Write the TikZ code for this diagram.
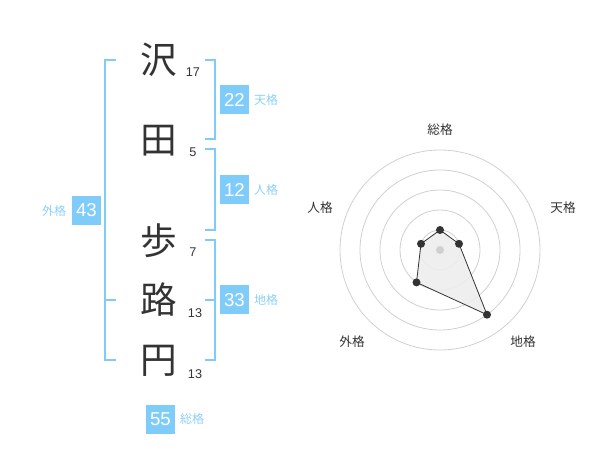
\documentclass[tikz,border=0pt]{standalone}
\usepackage{fontspec}
\setmainfont{Liberation Sans}
\newfontfamily\jp{Noto Sans CJK JP}
\definecolor{sky}{RGB}{127,204,250}
\definecolor{skytext}{RGB}{140,208,248}
\definecolor{ink}{RGB}{51,51,51}
\definecolor{ring}{RGB}{208,208,208}
\begin{document}
\begin{tikzpicture}[x=0.75pt,y=-0.75pt,
  kanji/.style={font=\jp\fontsize{27.5}{27.5}\selectfont,text=ink,inner sep=0pt},
  strokes/.style={font=\fontsize{9.5}{9.5}\selectfont,text=ink,inner sep=0pt},
  valbox/.style={fill=sky,text=white,font=\fontsize{14}{14}\selectfont,minimum width=21.75pt,minimum height=21.75pt,inner sep=0pt},
  kaku/.style={font=\jp\fontsize{9}{9}\selectfont,text=skytext,inner sep=0pt},
  bracket/.style={draw=sky,line width=1.5pt},
  axislabel/.style={font=\jp\fontsize{9.5}{9.5}\selectfont,text=ink,inner sep=0pt},
  ringline/.style={draw=ring,line width=0.6pt},
  dot/.style={circle,fill=ink,inner sep=0pt,minimum size=6pt}]
\useasboundingbox (0,0) rectangle (600,470);
% kanji
\node[kanji] (k1) at (159,60) {沢};
\node[kanji] (k2) at (159,141) {田};
\node[kanji] (k3) at (159,241) {歩};
\node[kanji] (k4) at (159,300) {路};
\node[kanji] (k5) at (159,361) {円};
% stroke counts
\node[strokes] (s1) at (193,72) {17};
\node[strokes] (s2) at (193,152) {5};
\node[strokes] (s3) at (193,252) {7};
\node[strokes] (s4) at (195,313) {13};
\node[strokes] (s5) at (195,374) {13};
% brackets
\draw[bracket] (116,60) -- (105,60) -- (105,360) -- (116,360);
\draw[bracket] (105,300) -- (116,300);
\draw[bracket] (205,60) -- (215,60) -- (215,139) -- (205,139);
\draw[bracket] (205,149) -- (215,149) -- (215,230) -- (205,230);
\draw[bracket] (205,240) -- (215,240) -- (215,360) -- (205,360);
\draw[bracket] (205,300) -- (215,300);
% value boxes
\node[valbox] (ten) at (234.5,100) {22};
\node[kaku] (tenl) at (266,100) {天格};
\node[valbox] (jin) at (234.5,190) {12};
\node[kaku] (jinl) at (266,190) {人格};
\node[valbox] (chi) at (234.5,300) {33};
\node[kaku] (chil) at (266,300) {地格};
\node[valbox] (gai) at (86.5,210.5) {43};
\node[kaku] (gail) at (54,210.5) {外格};
\node[valbox] (sou) at (160.5,419) {55};
\node[kaku] (soul) at (192,419) {総格};
% radar
\coordinate (c) at (440,250);
\foreach \r in {20,40,60,80,100} \draw[ringline] (c) circle[radius=\r];
\coordinate (p1) at (440,230);
\coordinate (p2) at (459,243.8);
\coordinate (p3) at (487,314.7);
\coordinate (p4) at (416.5,282.4);
\coordinate (p5) at (421,243.8);
\fill[black!7,opacity=0.9] (p1) -- (p2) -- (p3) -- (p4) -- (p5) -- cycle;
\draw[ink,line width=0.6pt] (p1) -- (p2) -- (p3) -- (p4) -- (p5) -- cycle;
\node[circle,fill=ring,inner sep=0pt,minimum size=6pt] (ctr) at (c) {};
\node[dot] (d1) at (p1) {};
\node[dot] (d2) at (p2) {};
\node[dot] (d3) at (p3) {};
\node[dot] (d4) at (p4) {};
\node[dot] (d5) at (p5) {};
\node[axislabel] (a1) at (440,130) {総格};
\node[axislabel] (a2) at (563,208) {天格};
\node[axislabel] (a3) at (523,342) {地格};
\node[axislabel] (a4) at (352,342) {外格};
\node[axislabel] (a5) at (320,208) {人格};
\end{tikzpicture}
\end{document}
